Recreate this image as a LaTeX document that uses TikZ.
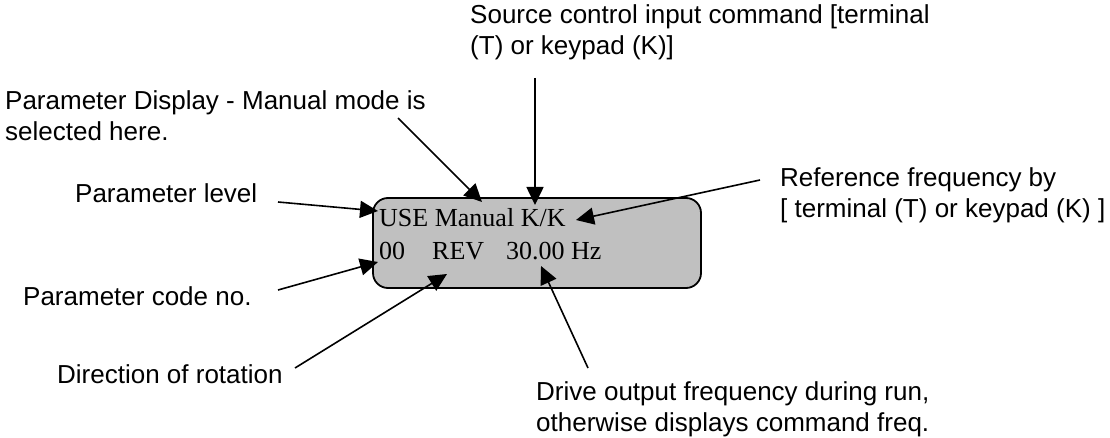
\documentclass[tikz,border=0pt]{standalone}
\usepackage{fontspec}
\usepackage{xcolor}
\usepackage{tikz}
\usetikzlibrary{arrows.meta}
\newfontfamily\lblfont{Liberation Sans}
\newfontfamily\lcdfont{Liberation Serif}
\definecolor{panelgray}{RGB}{192,192,192}
\tikzset{
  lbl/.style={anchor=base west, inner sep=0pt, align=left, font=\lblfont\fontsize{26}{31}\selectfont},
  lcdrow/.style={anchor=base west, inner sep=0pt, font=\lcdfont\fontsize{26}{32}\selectfont},
  ptr/.style={-{Triangle[length=18pt,width=17pt]}, line width=1.6pt},
}

\begin{document}
\begin{tikzpicture}[x=1pt, y=-1pt]
  \useasboundingbox (0,0) rectangle (1110,438);
  \draw[line width=1.8pt, fill=panelgray, rounded corners=15pt] (373,198) rectangle (701,288);
  \node[lcdrow] (row1) at (379,227) {USE Manual K/K};
  \node[lcdrow] (row2) at (379,259) {00\hspace{27pt}REV\hspace{22pt}30.00 Hz};
  \node[lbl] (src) at (470,55) {Source control input command [terminal\\(T) or keypad (K)]};
  \node[lbl] (disp) at (5,141) {Parameter Display - Manual mode is\\selected here.};
  \node[lbl] (lvl) at (75,203) {Parameter level};
  \node[lbl] (ref) at (780,218) {Reference frequency by\\{[} terminal (T) or keypad (K) ]};
  \node[lbl] (code) at (23,305) {Parameter code no.};
  \node[lbl] (dir) at (57,383) {Direction of rotation};
  \node[lbl] (drv) at (536,431) {Drive output frequency during run,\\otherwise displays command freq.};
  \coordinate (src-a) at (535,78);   \coordinate (src-b) at (535,205);
  \coordinate (disp-a) at (398,118); \coordinate (disp-b) at (482,202);
  \coordinate (lvl-a) at (278,202);  \coordinate (lvl-b) at (378,211);
  \coordinate (ref-a) at (760,180);  \coordinate (ref-b) at (576,220);
  \coordinate (code-a) at (278,290); \coordinate (code-b) at (378,262);
  \coordinate (dir-a) at (295,368);  \coordinate (dir-b) at (447,274);
  \coordinate (drv-a) at (588,368);  \coordinate (drv-b) at (541,266);
  \draw[ptr] (src-a) -- (src-b);
  \draw[ptr] (disp-a) -- (disp-b);
  \draw[ptr] (lvl-a) -- (lvl-b);
  \draw[ptr] (ref-a) -- (ref-b);
  \draw[ptr] (code-a) -- (code-b);
  \draw[ptr] (dir-a) -- (dir-b);
  \draw[ptr] (drv-a) -- (drv-b);
\end{tikzpicture}
\end{document}
